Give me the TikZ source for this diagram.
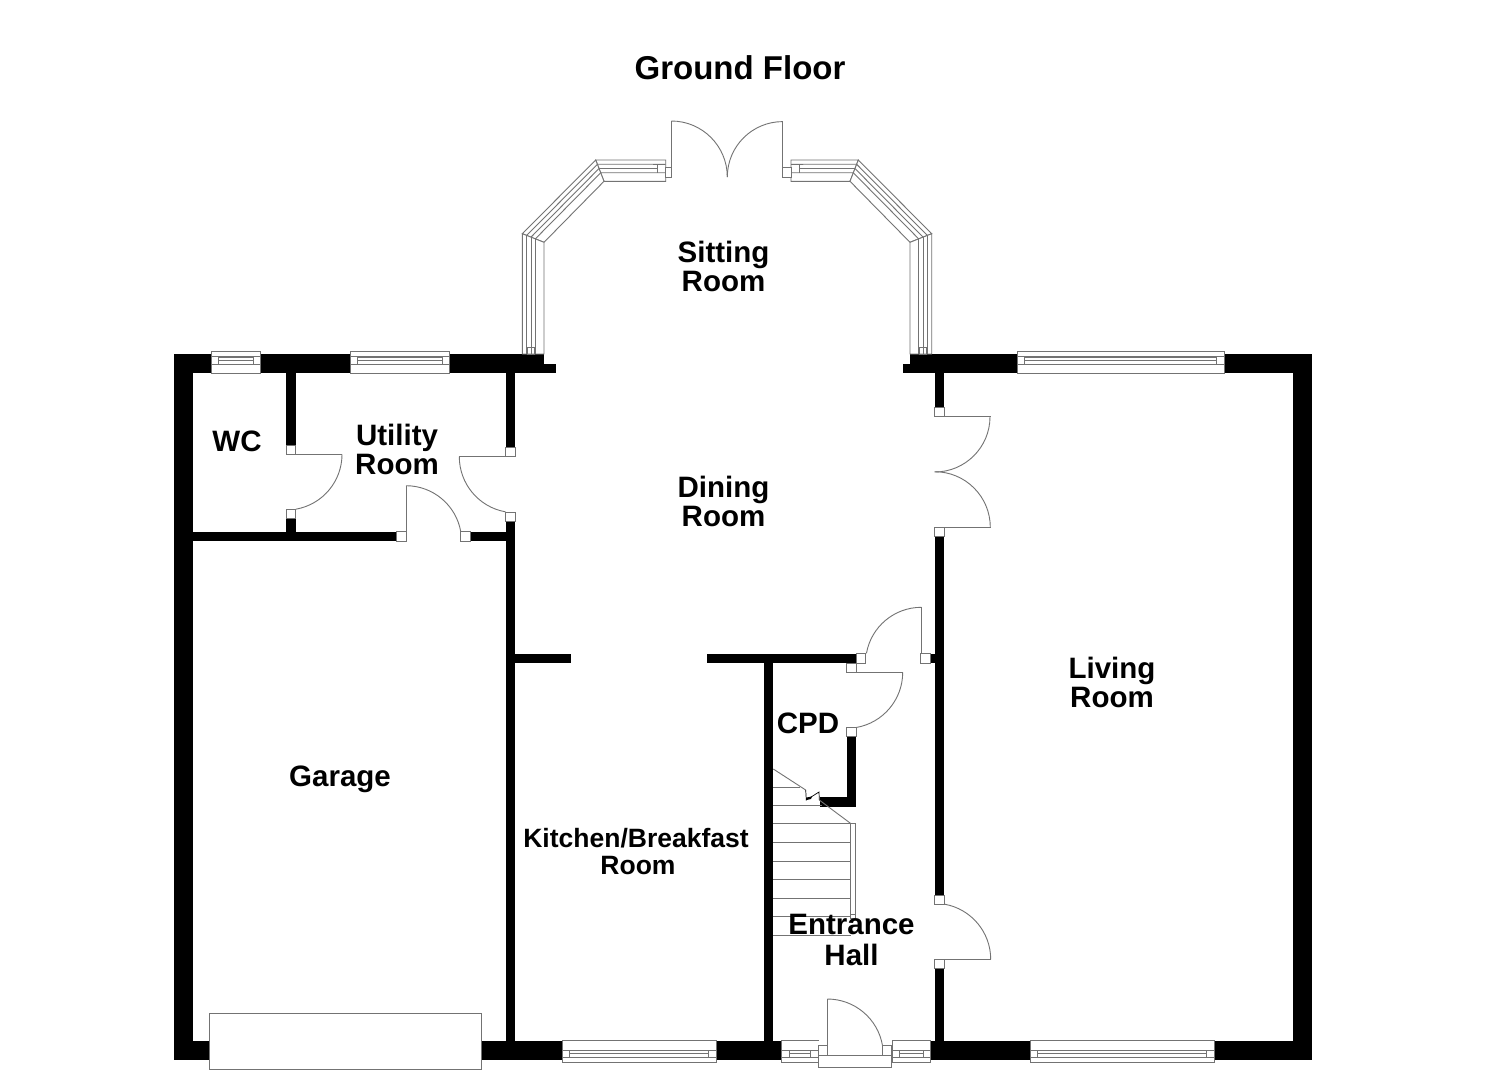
\documentclass[tikz,border=0pt]{standalone}
\usepackage{fontspec}
\setmainfont{Liberation Sans}
\usetikzlibrary{calc}
\tikzset{
  wallfill/.style={fill=black,draw=none},
  ln/.style={draw=black!55,line width=0.9pt},
  wh/.style={draw=black!55,line width=0.9pt,fill=white},
  roomlabel/.style={font=\bfseries\fontsize{29.5}{29}\selectfont,align=center,inner sep=0pt,text=black},
  smalllabel/.style={font=\bfseries\fontsize{26.5}{27}\selectfont,align=center,inner sep=0pt,text=black},
  titlelabel/.style={font=\bfseries\fontsize{33}{33}\selectfont,inner sep=0pt,text=black}
}
% wall rectangle, jamb square
\newcommand\wallr[4]{\fill[wallfill] (#1,#2) rectangle (#3,#4);}
\newcommand\jambr[4]{\draw[wh] (#1,#2) rectangle (#3,#4);}
% leaf line + swing arc: centre x,y ; radius ; start ; end
\newcommand\swing[5]{\draw[ln] (#1,#2) ++(#4:#3) arc[start angle=#4,end angle=#5,radius=#3];}
% window in the top wall
\newcommand\wintop[2]{%
  \draw[wh] (#1,351.3) rectangle (#2,373);
  \draw[ln] (#1,356) -- (#2,356) (#1,364) -- (#2,364);
  \draw[ln] (#1+7.3,356) -- (#1+7.3,364) (#2-7.3,356) -- (#2-7.3,364);
  \draw[ln] (#1+7.3,357.6) -- (#2-7.3,357.6) (#1+7.3,360.6) -- (#2-7.3,360.6);
}
% window in the bottom wall
\newcommand\winbot[2]{%
  \draw[wh] (#1,1040.7) rectangle (#2,1062.3);
  \draw[ln] (#1,1050.4) -- (#2,1050.4) (#1,1057.3) -- (#2,1057.3);
  \draw[ln] (#1+7.5,1050.4) -- (#1+7.5,1057.3) (#2-7.5,1050.4) -- (#2-7.5,1057.3);
  \draw[ln] (#1+7.5,1053.6) -- (#2-7.5,1053.6);
}
% half of the bay: #1 = x of the end of the front window
\newcommand\bayhalf[1]{%
  \coordinate (A) at (595.7,160);
  \coordinate (D) at (604,181.3);
  \coordinate (E) at (522.3,233.7);
  \coordinate (F) at (544,242.3);
  \draw[wh] (A) -- (#1,160) -- (#1,181.3) -- (D) -- cycle;
  \draw[wh] (A) -- (E) -- (F) -- (D) -- cycle;
  \draw[wh] (E) -- (F) -- (544,354) -- (522.3,354) -- cycle;
  \foreach \f in {0.2,0.4,0.6}{
    \draw[ln] ($(A)!\f!(D)$) -- ($(E)!\f!(F)$);
    \draw[ln] ($(E)!\f!(F)$) -- ($(522.3,354)!\f!(544,354)$);
  }
  \draw[ln] ($(A)!0.2!(D)$) -- (#1,164.3);
  \draw[ln] ($(A)!0.4!(D)$) -- (#1-8,168.5);
  \draw[ln] ($(A)!0.6!(D)$) -- (#1,172.7);
  \draw[ln] (#1-8,164.3) -- (#1-8,172.7);
  \draw[ln] (527.7,347.3) rectangle (534.7,354);
}
\begin{document}
\begin{tikzpicture}[x=1pt,y=-1pt]
\useasboundingbox (0,0) rectangle (1485,1080);
\fill[white] (0,0) rectangle (1485,1080);
% --- outer walls
\wallr{174}{354}{544}{373}
\wallr{544}{363.5}{556}{373}
\wallr{910}{354}{1312}{373}
\wallr{903}{364}{910}{373}
\wallr{174}{354}{193}{1060}
\wallr{1293}{354}{1312}{1060}
\wallr{174}{1040.7}{1312}{1059.7}
% --- inner walls
\wallr{505.7}{373}{515.3}{447.3}
\wallr{505.7}{521}{515.3}{1041}
\wallr{286.3}{373}{295.7}{445}
\wallr{286.3}{518.7}{295.7}{532}
\wallr{193}{531.7}{396.7}{541.3}
\wallr{470}{531.7}{506}{541.3}
\wallr{515}{653.7}{571}{663}
\wallr{707}{653.7}{856.3}{663}
\wallr{763.7}{663}{773.3}{1041}
\wallr{846.7}{736.7}{856.3}{807}
\wallr{820}{797.3}{856.3}{807}
\wallr{934.7}{373}{944.3}{407.7}
\wallr{934.7}{536.7}{944.3}{895}
\wallr{934.7}{968.7}{944.3}{1041}
\wallr{930}{653.7}{935}{663}
% --- windows
\wintop{211}{260.3}
\wintop{350.3}{449.3}
\wintop{1017}{1224}
\winbot{562}{716}
\winbot{781.7}{818}
\winbot{892.3}{930.7}
\winbot{1030}{1214}
% --- garage door
\draw[wh] (209,1013.3) rectangle (481.7,1069);
% --- bay
\bayhalf{665.7}
\begin{scope}[xshift=1454pt,xscale=-1]
\bayhalf{663}
\end{scope}
% --- French doors of the sitting room
\jambr{665.7}{167.3}{671.3}{177.3}
\jambr{782.7}{167.3}{791}{177.3}
\draw[ln] (671.3,177) -- (671.3,121.3);
\draw[ln] (782.7,177) -- (782.7,121.3);
\swing{671.3}{177}{56}{270}{360}
\swing{782.7}{177}{55.4}{270}{180}
% --- WC door
\jambr{286.3}{445}{295.7}{454.3}
\jambr{286.3}{509.3}{295.7}{518.7}
\draw[ln] (295.7,454.3) -- (342,454.3);
\swing{286.3}{454.3}{55.7}{0}{80}
% --- utility door to the dining room
\jambr{505.7}{447.3}{515.3}{456.7}
\jambr{505.7}{512}{515.3}{521}
\draw[ln] (505.7,456.7) -- (459.3,456.7);
\swing{515.3}{456.7}{56}{180}{100}
% --- utility door to the garage
\jambr{396.7}{531.7}{406}{541.3}
\jambr{460.7}{531.7}{470}{541.3}
\draw[ln] (406,531.7) -- (406,485.7);
\swing{406}{541.3}{55.6}{270}{350}
% --- living room double doors
\jambr{934.7}{407.7}{944.3}{416.7}
\jambr{934.7}{527.3}{944.3}{536.7}
\draw[ln] (934.7,416.7) -- (990.7,416.7);
\draw[ln] (934.7,527.3) -- (990.7,527.3);
\swing{934.7}{416.7}{55.3}{0}{90}
\swing{934.7}{527.3}{55.6}{0}{-90}
% --- hall door to the dining room
\jambr{856.3}{653.7}{865.7}{663}
\jambr{920.7}{653.7}{930}{663}
\draw[ln] (921.3,653.7) -- (921.3,607.3);
\swing{921.3}{663}{55.7}{270}{190}
% --- cupboard door
\jambr{846.7}{663}{856.3}{672.3}
\jambr{846.7}{727.3}{856.3}{736.7}
\draw[ln] (856.3,672.3) -- (902.7,672.3);
\swing{846.7}{672.3}{56}{0}{80}
% --- hall door to the living room
\jambr{934.7}{895}{944.3}{904}
\jambr{934.7}{959.3}{944.3}{968.7}
\draw[ln] (944.3,959.3) -- (990.7,959.3);
\swing{934.7}{959.3}{56}{0}{-80}
% --- front door
\fill[white] (818,1040.7) rectangle (892,1060);
\draw[wh] (818,1055) rectangle (891.7,1067.3);
\jambr{818}{1045.7}{827.3}{1055}
\jambr{882.3}{1045.7}{891.7}{1055}
\draw[ln] (827.3,1045.7) -- (827.3,999);
\swing{827.3}{1055}{56}{270}{350}
% --- stairs
\foreach \y/\xe in {787/800,805.3/822,823.7/850.5,842.3/850.5,861/850.5,879.7/850.5,898/850.5,916.7/850.5,935.3/850.5}{
  \draw[ln] (773.3,\y) -- (\xe,\y);
}
\draw[ln] (773.3,769) -- (805.7,790);
\draw[ln] (819.3,800) -- (850.7,823.5);
\draw[ln] (850.5,823.5) -- (855,823.5) -- (855,914) (850.5,823.5) -- (850.5,914);
\draw[wh] (850.5,914) rectangle (855,918);
\fill[black] (806,800) -- (806.3,797.5) -- (812,796.5) -- (811,799) -- cycle;
\draw[black,line width=0.7pt] (805.7,790) -- (806.3,800) -- (819,792) -- (819.3,800);
% --- labels
\node[titlelabel,anchor=base] (title) at (740,79) {Ground Floor};
\node[roomlabel] (sitting) at (723.5,270.4) {\strut Sitting\\\strut Room};
\node[roomlabel] (dining) at (723.5,505.6) {\strut Dining\\\strut Room};
\node[roomlabel] (utility) at (397,454) {\strut Utility\\\strut Room};
\node[roomlabel] (wc) at (237,446) {\strut WC};
\node[roomlabel] (garage) at (340,781) {\strut Garage};
\node[roomlabel] (living) at (1112,687) {\strut Living\\\strut Room};
\node[roomlabel] (cpd) at (808,728) {\strut CPD};
\node[smalllabel] (kitchen) at (636,855) {\strut Kitchen/Breakfast\\\strut\hspace{4pt}Room};
\node[roomlabel] (hall) at (851.5,944.5) {\strut Entrance\\\strut Hall};
\end{tikzpicture}
\end{document}
